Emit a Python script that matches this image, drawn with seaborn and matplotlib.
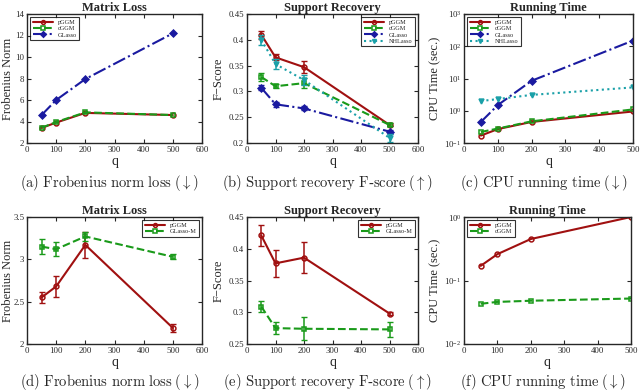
"""Recreate the 2x3 grid of pGGM / cGGM / GLasso comparison plots."""

import matplotlib

matplotlib.use("Agg")
import matplotlib.pyplot as plt
import numpy as np
import seaborn as sns

Q = [50, 100, 200, 500]

# (a) Matrix loss, top row
FROB_PGGM = [3.40, 3.90, 4.80, 4.60]
FROB_CGGM = [3.42, 3.95, 4.85, 4.60]
FROB_GLASSO = [4.60, 6.00, 7.95, 12.20]

# (b) Support recovery, top row
F_PGGM = [0.410, 0.366, 0.347, 0.235]
F_PGGM_ERR = [0.008, 0.006, 0.012, 0.003]
F_CGGM = [0.328, 0.310, 0.316, 0.235]
F_CGGM_ERR = [0.008, 0.004, 0.010, 0.003]
F_GLASSO = [0.307, 0.275, 0.267, 0.222]
F_GLASSO_ERR = [0.005, 0.005, 0.004, 0.004]
F_NHLASSO = [0.400, 0.353, 0.322, 0.210]
F_NHLASSO_ERR = [0.010, 0.010, 0.010, 0.008]

# (c) Running time, top row
T_PGGM = [0.17, 0.27, 0.45, 0.95]
T_CGGM = [0.22, 0.28, 0.47, 1.10]
T_GLASSO = [0.45, 1.5, 8.5, 150.0]
T_NHLASSO = [2.0, 2.3, 3.1, 5.3]

# (d) Matrix loss, bottom row
FROB2_PGGM = [2.55, 2.68, 3.17, 2.19]
FROB2_PGGM_ERR = [0.07, 0.12, 0.15, 0.05]
FROB2_GLASSOM = [3.15, 3.12, 3.27, 3.03]
FROB2_GLASSOM_ERR = [0.09, 0.08, 0.05, 0.03]

# (e) Support recovery, bottom row
F2_PGGM = [0.421, 0.377, 0.386, 0.298]
F2_PGGM_ERR = [0.016, 0.021, 0.024, 0.002]
F2_GLASSOM = [0.309, 0.275, 0.274, 0.273]
F2_GLASSOM_ERR = [0.008, 0.009, 0.018, 0.012]

# (f) Running time, bottom row
T2_PGGM = [0.17, 0.26, 0.45, 1.00]
T2_CGGM = [0.043, 0.046, 0.048, 0.052]

STYLES = {
    "pGGM": dict(color="#a01010", marker="o", linestyle="-"),
    "cGGM": dict(color="#1a9a1a", marker="s", linestyle="--"),
    "GLasso": dict(color="#1a1aa0", marker="D", linestyle="-."),
    "NHLasso": dict(color="#1aa0a8", marker="v", linestyle=":"),
    "GLasso-M": dict(color="#1a9a1a", marker="s", linestyle="--"),
}

sns.set_style("ticks")
plt.rcParams["font.family"] = ["Liberation Serif", "DejaVu Serif"]
plt.rcParams["mathtext.fontset"] = "cm"
plt.rcParams["xtick.direction"] = "in"
plt.rcParams["ytick.direction"] = "in"
plt.rcParams["xtick.top"] = True
plt.rcParams["ytick.right"] = True
plt.rcParams["axes.linewidth"] = 1.0

W, H = 640, 391
fig = plt.figure(figsize=(W / 100, H / 100), dpi=100)


def make_axes(left, right, top, bottom):
    return fig.add_axes([left / W, 1 - bottom / H, (right - left) / W, (bottom - top) / H])


def cm_text(text):
    # typeset in Computer Modern through mathtext, as LaTeX did in the original
    return r"$\mathrm{" + text.replace(" ", r"\ ") + "}$"


def draw(ax, name, values, errors=None, filled=False):
    style = STYLES[name]
    sns.lineplot(
        x=Q, y=values, ax=ax, color=style["color"], marker=style["marker"],
        linestyle=style["linestyle"], linewidth=1.5, markersize=3.5,
        markerfacecolor=style["color"] if filled else "none",
        markeredgecolor=style["color"], markeredgewidth=1.1, label=name,
    )
    if errors is not None:
        ax.errorbar(Q, values, yerr=errors, fmt="none", ecolor=style["color"],
                    elinewidth=1.1, capsize=2)


def finish(ax, title, ylabel, caption, xlim, ylim, loc, caption_y, label_x, log=False):
    if log:
        ax.set_yscale("log")
    ax.set_xlim(*xlim)
    ax.set_ylim(*ylim)
    ax.set_title(title, fontsize=9, fontweight="bold", pad=2)
    ax.set_ylabel(ylabel, fontsize=9)
    box = ax.get_position()
    ax.yaxis.set_label_coords((label_x / W - box.x0) / box.width, 0.5)
    ax.set_xlabel("q", fontsize=10, labelpad=1)
    ax.tick_params(labelsize=6.3, length=3, pad=2)
    ax.tick_params(which="minor", length=0)
    leg = ax.legend(loc=loc, fontsize=4.5, frameon=True, fancybox=False,
                    handlelength=3.2, borderpad=0.4, labelspacing=0.15,
                    markerscale=0.8)
    leg.get_frame().set_edgecolor("black")
    leg.get_frame().set_linewidth(0.8)
    fig.text(box.x0 + box.width / 2 - 0.008, 1 - caption_y / H, caption,
             ha="center", va="center", fontsize=10.5)


# top row
ax = make_axes(27, 202, 14, 143)
draw(ax, "pGGM", FROB_PGGM)
draw(ax, "cGGM", FROB_CGGM)
draw(ax, "GLasso", FROB_GLASSO, filled=True)
ax.set_yticks(np.arange(2, 15, 2))
finish(ax, "Matrix Loss", "Frobenius Norm",
       cm_text("(a) Frobenius norm loss") + r" $(\downarrow)$",
       (0, 600), (2, 14), "upper left", 183, 14)

ax = make_axes(247, 418, 14, 143)
draw(ax, "pGGM", F_PGGM, F_PGGM_ERR)
draw(ax, "cGGM", F_CGGM, F_CGGM_ERR)
draw(ax, "GLasso", F_GLASSO, F_GLASSO_ERR, filled=True)
draw(ax, "NHLasso", F_NHLASSO, F_NHLASSO_ERR, filled=True)
ax.set_yticks(np.arange(0.2, 0.451, 0.05))
ax.set_yticklabels(["0.2", "0.25", "0.3", "0.35", "0.4", "0.45"])
finish(ax, "Support Recovery", "F\u2212Score",
       cm_text("(b) Support recovery F") + "-" + cm_text("score") + r" $(\uparrow)$",
       (0, 600), (0.2, 0.45), "upper right", 183, 225)

ax = make_axes(464, 633, 14, 143)
draw(ax, "pGGM", T_PGGM)
draw(ax, "cGGM", T_CGGM)
draw(ax, "GLasso", T_GLASSO, filled=True)
draw(ax, "NHLasso", T_NHLASSO, filled=True)
finish(ax, "Running Time", "CPU Time (sec.)",
       cm_text("(c) CPU running time") + r" $(\downarrow)$",
       (0, 500), (0.1, 1000), "upper left", 183, 441, log=True)

# bottom row
ax = make_axes(27, 202, 217, 344)
draw(ax, "pGGM", FROB2_PGGM, FROB2_PGGM_ERR)
draw(ax, "GLasso-M", FROB2_GLASSOM, FROB2_GLASSOM_ERR)
ax.set_yticks([2, 2.5, 3, 3.5])
ax.set_yticklabels(["2", "2.5", "3", "3.5"])
finish(ax, "Matrix Loss", "Frobenius Norm",
       cm_text("(d) Frobenius norm loss") + r" $(\downarrow)$",
       (0, 600), (2, 3.5), "upper right", 382, 14)

ax = make_axes(247, 418, 217, 344)
draw(ax, "pGGM", F2_PGGM, F2_PGGM_ERR)
draw(ax, "GLasso-M", F2_GLASSOM, F2_GLASSOM_ERR)
ax.set_yticks(np.arange(0.25, 0.451, 0.05))
ax.set_yticklabels(["0.25", "0.3", "0.35", "0.4", "0.45"])
finish(ax, "Support Recovery", "F\u2212Score",
       cm_text("(e) Support recovery F") + "-" + cm_text("score") + r" $(\uparrow)$",
       (0, 600), (0.25, 0.45), "upper right", 382, 225)

ax = make_axes(464, 631, 217, 344)
draw(ax, "pGGM", T2_PGGM)
draw(ax, "cGGM", T2_CGGM)
finish(ax, "Running Time", "CPU Time (sec.)",
       cm_text("(f) CPU running time") + r" $(\downarrow)$",
       (0, 500), (0.01, 1), "upper left", 382, 441, log=True)

fig.savefig("out.png", dpi=100)
